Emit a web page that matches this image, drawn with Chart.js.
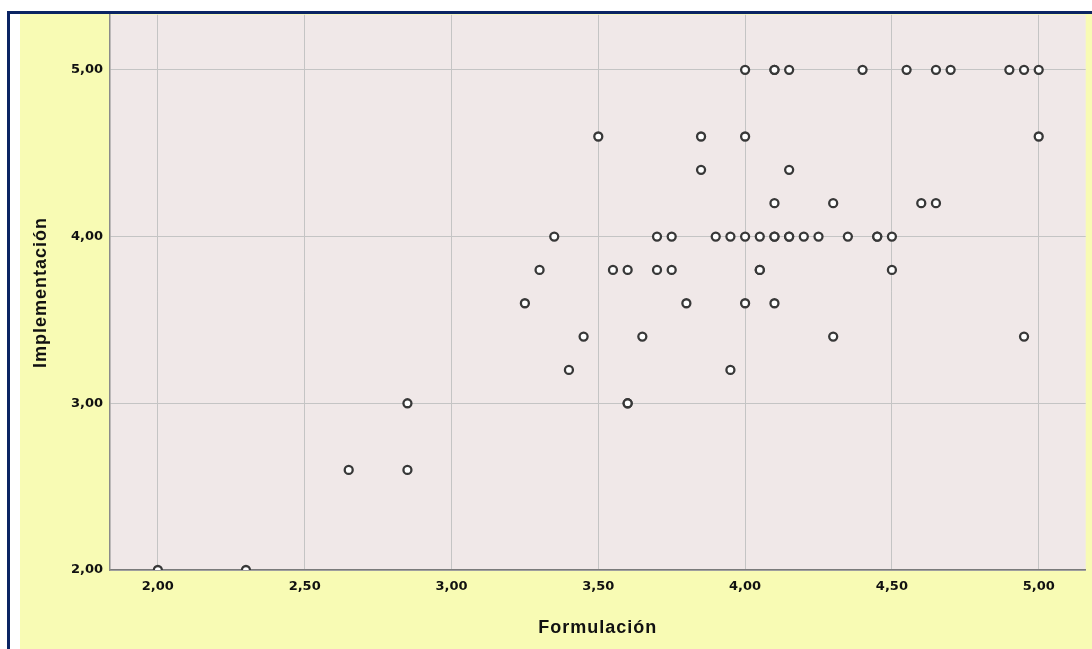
<!DOCTYPE html>
<html>
<head>
<meta charset="utf-8">
<script src="https://cdn.jsdelivr.net/npm/chart.js@4/dist/chart.umd.min.js"></script>
<style>
  html, body { margin: 0; padding: 0; background: #ffffff; }
  #wrap { width: 1092px; height: 649px; }
</style>
</head>
<body>
<div id="wrap"><canvas id="c" width="1092" height="649"></canvas></div>
<script>
// Formulación (x) and Implementación (y) pairs
const formulacion = [
  2.00, 2.30, 2.65, 2.85, 2.85,
  3.25, 3.30, 3.35, 3.40, 3.45, 3.50, 3.55, 3.60, 3.60, 3.60, 3.65,
  3.70, 3.70, 3.75, 3.75, 3.80, 3.85, 3.85, 3.90, 3.95, 3.95,
  4.00, 4.00, 4.00, 4.00, 4.05, 4.05, 4.05,
  4.10, 4.10, 4.10, 4.10, 4.10, 4.10,
  4.15, 4.15, 4.15, 4.15, 4.20, 4.25, 4.30, 4.30, 4.35, 4.40,
  4.45, 4.45, 4.50, 4.50, 4.55, 4.60, 4.65, 4.65, 4.70,
  4.90, 4.95, 4.95, 5.00, 5.00
];
const implementacion = [
  2.00, 2.00, 2.60, 2.60, 3.00,
  3.60, 3.80, 4.00, 3.20, 3.40, 4.60, 3.80, 3.80, 3.00, 3.00, 3.40,
  4.00, 3.80, 4.00, 3.80, 3.60, 4.60, 4.40, 4.00, 4.00, 3.20,
  5.00, 4.60, 4.00, 3.60, 4.00, 3.80, 3.80,
  5.00, 5.00, 4.20, 4.00, 4.00, 3.60,
  5.00, 4.40, 4.00, 4.00, 4.00, 4.00, 4.20, 3.40, 4.00, 5.00,
  4.00, 4.00, 4.00, 3.80, 5.00, 4.20, 5.00, 4.20, 5.00,
  5.00, 5.00, 3.40, 5.00, 4.60
];
const xTickValues = [2.00, 2.50, 3.00, 3.50, 4.00, 4.50, 5.00];
const yTickValues = [2.00, 3.00, 4.00, 5.00];
const xTitle = 'Formulación';
const yTitle = 'Implementación';

const points = formulacion.map((x, i) => ({ x: x, y: implementacion[i] }));
const fmt = v => Number(v).toFixed(2).replace('.', ',');

const frame = {
  id: 'frame',
  beforeDraw(chart) {
    const ctx = chart.ctx;
    const W = chart.width, H = chart.height;
    const a = chart.chartArea;
    ctx.save();
    ctx.fillStyle = '#ffffff';
    ctx.fillRect(0, 0, W, H);
    ctx.fillStyle = '#F8FBB4';
    ctx.fillRect(20, 14, W - 20, H - 14);
    ctx.fillStyle = '#0A2463';
    ctx.fillRect(7, 11, W - 7, 3);
    ctx.fillRect(7, 11, 3, H - 11);
    ctx.fillStyle = '#F0E8E8';
    ctx.fillRect(a.left, a.top, a.right - a.left, a.bottom - a.top);
    ctx.restore();
  },
  afterDraw(chart) {
    const ctx = chart.ctx;
    const a = chart.chartArea;
    ctx.save();
    ctx.fillStyle = '#111111';
    ctx.font = 'bold 18px "Liberation Sans", Arial, sans-serif';
    ctx.letterSpacing = '1px';
    ctx.textAlign = 'center';
    ctx.textBaseline = 'middle';
    ctx.fillText(xTitle, (a.left + a.right) / 2, 628);
    ctx.translate(41, (a.top + a.bottom) / 2);
    ctx.rotate(-Math.PI / 2);
    ctx.fillText(yTitle, 0, 0);
    ctx.restore();
  }
};

new Chart(document.getElementById('c'), {
  type: 'scatter',
  data: {
    datasets: [{
      data: points,
      clip: 0,
      pointRadius: 4,
      pointHoverRadius: 4,
      pointBorderWidth: 2.3,
      pointBackgroundColor: '#ffffff',
      pointBorderColor: '#383838'
    }]
  },
  options: {
    responsive: false,
    animation: false,
    events: [],
    layout: { padding: { left: 0, top: 14, right: 5, bottom: 0 } },
    plugins: { legend: { display: false }, tooltip: { enabled: false } },
    scales: {
      x: {
        type: 'linear',
        min: 1.837,
        max: 5.16,
        afterBuildTicks: s => { s.ticks = xTickValues.map(v => ({ value: v })); },
        afterFit: s => { s.height = 79; },
        grid: { color: '#c4c4c4', lineWidth: 1, drawTicks: false },
        border: { color: '#7a7a7a', width: 1.5 },
        ticks: {
          padding: 9,
          color: '#111111',
          font: { family: 'DejaVu Sans', weight: 'bold', size: 13 },
          callback: v => fmt(v),
          maxRotation: 0,
          autoSkip: false
        },
        title: { display: false }
      },
      y: {
        type: 'linear',
        min: 2.0,
        max: 5.33,
        afterBuildTicks: s => { s.ticks = yTickValues.map(v => ({ value: v })); },
        afterFit: s => { s.width = 110; },
        grid: { color: '#c4c4c4', lineWidth: 1, drawTicks: false },
        border: { color: '#8a8a8a', width: 1.5 },
        ticks: {
          padding: 7,
          color: '#111111',
          font: { family: 'DejaVu Sans', weight: 'bold', size: 13 },
          callback: v => fmt(v),
          autoSkip: false
        },
        title: { display: false }
      }
    }
  },
  plugins: [frame]
});
</script>
</body>
</html>
